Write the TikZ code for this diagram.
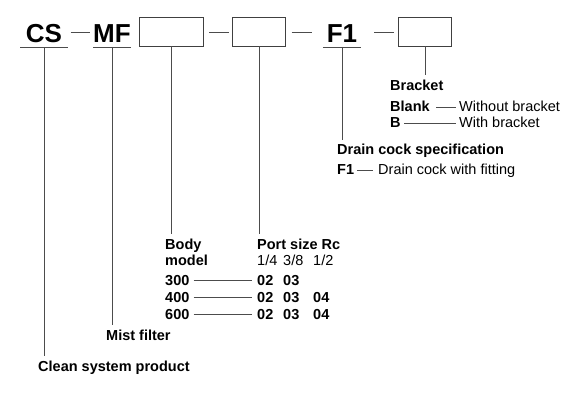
\documentclass[tikz,border=0pt]{standalone}
\usepackage{fontspec}
\setmainfont{Liberation Sans}
\tikzset{
  code/.style={font=\bfseries\fontsize{26}{26}\selectfont, anchor=base, inner xsep=0pt, inner ysep=4pt},
  slot/.style={draw=black!75, line width=0.8pt, minimum width=#1, minimum height=28.7pt, inner sep=0pt},
  lbl/.style={anchor=base west, inner sep=0pt, font=\fontsize{14.5}{17}\selectfont},
  blbl/.style={lbl, font=\bfseries\fontsize{14.5}{17}\selectfont},
  link/.style={draw=black!70, line width=0.6pt},
  drop/.style={link, shorten >=4.5pt},
}
\begin{document}
\begin{tikzpicture}[x=1pt,y=-1pt]
  \useasboundingbox (0,0) rectangle (576,409);
  % Model code
  \node[code, minimum width=47pt] (cs) at (44,42.7) {CS};
  \node[code] (mf) at (112,42.7) {MF};
  \node[slot=64pt] (body) at (171,31.7) {};
  \node[slot=53pt] (port) at (259,31.7) {};
  \node[code, minimum width=38pt] (f1) at (342,42.7) {F1};
  \node[slot=53pt] (brk) at (425,31.7) {};
  \foreach \n in {cs,mf,f1} \draw[link] (\n.south west) -- (\n.south east); % underlines
  \foreach \a/\b in {70.6/90.4, 209/229, 291.5/311.8, 374/394} \draw[link] (\a,32.7) -- (\b,32.7); % dashes

  % Bracket
  \node[blbl] (brkt) at (390,90.7) {Bracket};
  \node[blbl] (blank) at (390,112) {Blank};
  \node[lbl] (wo) at (459,112) {Without bracket};
  \node[blbl] (bb) at (390,128) {B};
  \node[lbl] (wb) at (459,128) {With bracket};
  \draw[drop] (brk.south) -- (brk.south |- brkt.north);
  \draw[link] ([xshift=6.5pt]blank.east) -- ([xshift=-3pt]blank.east -| wo.west);
  \draw[link] ([xshift=3.5pt]bb.east) -- ([xshift=-3pt]bb.east -| wb.west);

  % Drain cock
  \node[blbl] (drain) at (337,155) {Drain cock specification};
  \node[blbl] (df1) at (337,175) {F1};
  \node[lbl] (dfit) at (378,175) {Drain cock with fitting};
  \draw[drop] (f1.south) -- (f1.south |- drain.north);
  \draw[link] ([xshift=3pt]df1.east) -- ([xshift=-5pt]df1.east -| dfit.west);

  % Body model and port size
  \node[blbl] (bodyl) at (165,249) {Body};
  \node[blbl] (model) at (165,265) {model};
  \node[blbl] (portl) at (257,249) {Port size Rc};
  \node[lbl] (s1) at (257,265) {1/4};
  \node[lbl] (s2) at (283,265) {3/8};
  \node[lbl] (s3) at (313,265) {1/2};
  \draw[drop] (body.south) -- (body.south |- bodyl.north);
  \draw[drop] (port.south) -- (port.south |- portl.north);
  \foreach \m/\y in {300/285,400/302,600/319} {
    \node[blbl] (m\m) at (165,\y) {\m};
    \node[blbl] (p\m) at (257,\y) {02};
    \node[blbl] (q\m) at (283,\y) {03};
    \draw[link] ([xshift=4pt]m\m.east) -- ([xshift=-5pt]m\m.east -| p\m.west);
  }
  \node[blbl] (r400) at (313,302) {04};
  \node[blbl] (r600) at (313,319) {04};

  % Mist filter, clean system
  \node[blbl] (mist) at (106,340) {Mist filter};
  \node[blbl] (clean) at (38,371) {Clean system product};
  \draw[drop] (mf.south) -- (mf.south |- mist.north);
  \draw[drop] (cs.south) -- (cs.south |- clean.north);
\end{tikzpicture}
\end{document}
